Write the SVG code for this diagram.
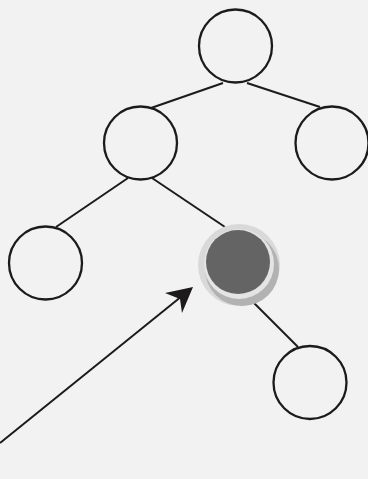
<svg xmlns="http://www.w3.org/2000/svg" width="368" height="479" viewBox="0 0 368 479">
<style>
.node{fill:none;stroke:#1c1a1a;stroke-width:2.3}
.edge{stroke:#1c1a1a;stroke-width:2;fill:none}
</style>
<rect width="368" height="479" fill="#f2f2f2"/>
<g id="connectors">
<line class="edge" x1="223" y1="83" x2="151" y2="108"/>
<line class="edge" x1="247" y1="83" x2="320" y2="107"/>
<line class="edge" x1="128" y1="178" x2="56" y2="227"/>
<line class="edge" x1="152" y1="178" x2="225" y2="227"/>
<line class="edge" x1="249" y1="298" x2="298" y2="347"/>
<line class="edge" x1="0" y1="443" x2="182" y2="296"/>
<polygon points="193,287 165,293 180,299 182,313" fill="#1c1a1a"/>
</g>
<g id="n1"><circle class="node" cx="235.5" cy="46" r="36.5"/></g>
<g id="n2"><circle class="node" cx="140.5" cy="143" r="36.5"/></g>
<g id="n3"><circle class="node" cx="332" cy="143" r="36.5"/></g>
<g id="n4"><circle class="node" cx="45.5" cy="263" r="36.5"/></g>
<g id="n5">
<circle cx="239" cy="265" r="41" fill="#d9d9d9"/>
<circle cx="242" cy="269" r="37" fill="#b2b2b2"/>
<circle cx="239" cy="264" r="35" fill="#e4e4e4"/>
<circle cx="238" cy="262" r="32" fill="#646464"/>
</g>
<g id="n6"><circle class="node" cx="310" cy="382.5" r="36.5"/></g>
</svg>
